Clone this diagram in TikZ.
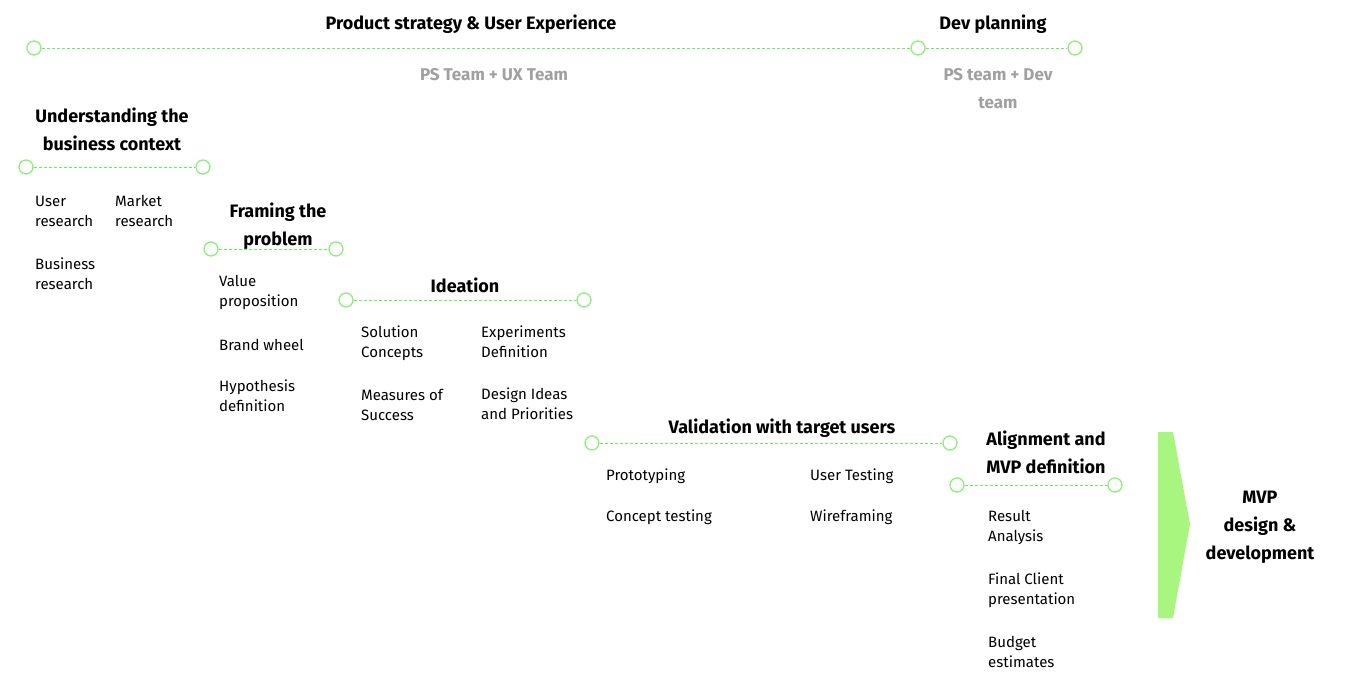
\documentclass[tikz,border=0pt]{standalone}
\usepackage{fontspec}
\setmainfont{Fira Sans}
\definecolor{gcirc}{HTML}{8EEE7E}
\definecolor{gline}{HTML}{66F055}
\definecolor{garrow}{HTML}{A8F580}
\definecolor{gtext}{HTML}{A0A0A0}
\begin{document}
\begin{tikzpicture}[x=1pt,y=-1pt,
  dot/.style={circle,draw=gcirc,line width=1.3pt,fill=white,minimum size=14pt,inner sep=0pt},
  tl/.style={draw=gline,dashed,dash pattern=on 3pt off 2pt,line width=0.8pt},
  ttl/.style={font=\fontsize{18}{28}\selectfont\bfseries,align=center,inner sep=0pt},
  sub/.style={font=\fontsize{17}{28}\selectfont\bfseries,text=gtext,align=center,inner sep=0pt},
  item/.style={font=\fontsize{15}{20}\selectfont,align=left,anchor=west,inner sep=0pt}]
\useasboundingbox (0,0) rectangle (1345,693);
% top
\node[dot] (a1) at (34,48) {};
\node[dot] (a2) at (918,48) {};
\node[dot] (a3) at (1075,48) {};
\draw[tl] (a1) -- (a2); \draw[tl] (a2) -- (a3);
\node[ttl] (t1) at (471,24) {Product strategy \& User Experience};
\node[sub] (s1) at (494,75) {PS Team + UX Team};
\node[ttl] (t2) at (993,24) {Dev planning};
\node[sub] (s2) at (998,89) {PS team + Dev\\team};
% understanding
\node[ttl] (u) at (112,129) {Understanding the\\business context};
\node[dot] (u1) at (26,167) {};
\node[dot] (u2) at (203,167) {};
\draw[tl] (u1) -- (u2);
\node[item] (ui1) at (35,211) {User\\research};
\node[item] (ui2) at (115,211) {Market\\research};
\node[item] (ui3) at (35,274) {Business\\research};
% framing
\node[ttl] (f) at (278,226) {Framing the\\problem};
\node[dot] (f1) at (211,249) {};
\node[dot] (f2) at (336,249) {};
\draw[tl] (f1) -- (f2);
\node[item] (fi1) at (219,292) {Value\\proposition};
\node[item] (fi2) at (219,345) {Brand wheel};
\node[item] (fi3) at (219,396) {Hypothesis\\definition};
% ideation
\node[ttl] (id) at (465,285) {Ideation};
\node[dot] (i1) at (346,300) {};
\node[dot] (i2) at (584,300) {};
\draw[tl] (i1) -- (i2);
\node[item] (ii1) at (361,343) {Solution\\Concepts};
\node[item] (ii2) at (361,405) {Measures of\\Success};
\node[item] (ii3) at (481,342) {Experiments\\Definition};
\node[item] (ii4) at (481,404) {Design Ideas\\and Priorities};
% validation
\node[ttl] (v) at (782,428) {Validation with target users};
\node[dot] (v1) at (592,443) {};
\node[dot] (v2) at (950,443) {};
\draw[tl] (v1) -- (v2);
\node[item] (vi1) at (606,476) {Prototyping};
\node[item] (vi2) at (606,517) {Concept testing};
\node[item] (vi3) at (810,476) {User Testing};
\node[item] (vi4) at (810,517) {Wireframing};
% alignment
\node[ttl] (al) at (1046,452) {Alignment and\\MVP definition};
\node[dot] (l1) at (957,485) {};
\node[dot] (l2) at (1115,485) {};
\draw[tl] (l1) -- (l2);
\node[item] (li1) at (988,527) {Result\\Analysis};
\node[item] (li2) at (988,590) {Final Client\\presentation};
\node[item] (li3) at (988,652) {Budget\\estimates};
% arrow
\fill[garrow] (1158,432) -- (1173,432) -- (1190,524) -- (1173,618) -- (1158,618) -- cycle;
\node[ttl] (mvp) at (1260,527) {MVP\\design \&\\development};
\end{tikzpicture}
\end{document}
